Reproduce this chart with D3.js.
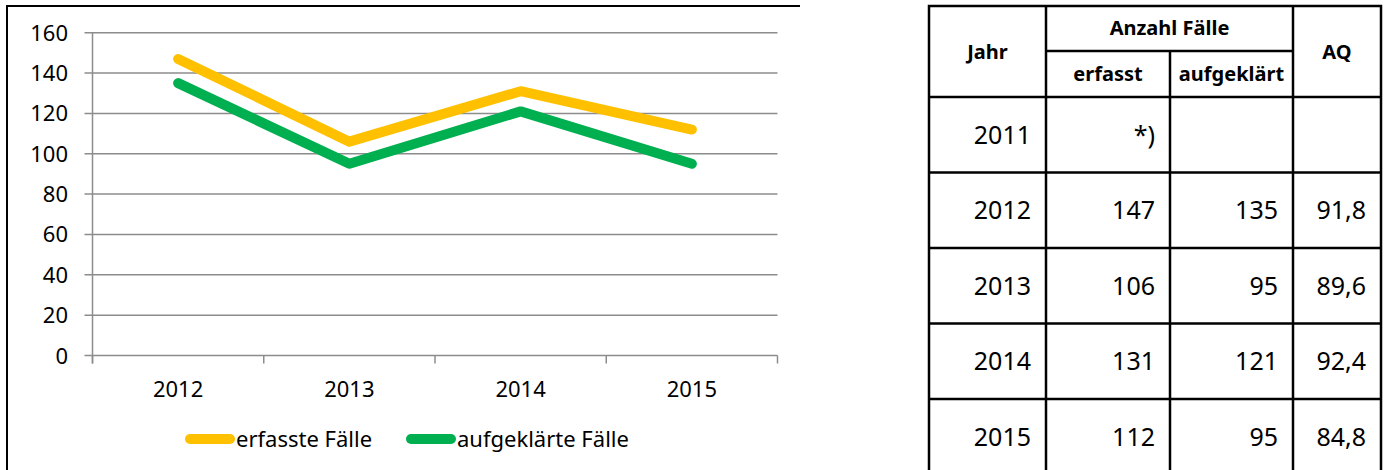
<!DOCTYPE html>
<html>
<head>
<meta charset="utf-8">
<script src="https://cdn.jsdelivr.net/npm/d3@7"></script>
<style>
  body { margin: 0; background: #fff; }
  svg { display: block; font-family: "Noto Sans", sans-serif; }
</style>
</head>
<body>
<div id="chart"></div>
<script>
// ---------------- DATA ----------------
const years = ["2012", "2013", "2014", "2015"];
const erfasst = [147, 106, 131, 112];
const aufgeklaert = [135, 95, 121, 95];
const yTicks = [0, 20, 40, 60, 80, 100, 120, 140, 160];
const seriesNames = ["erfasste Fälle", "aufgeklärte Fälle"];
const seriesColors = ["#FFC000", "#00B050"];

const tableYears = ["2011", "2012", "2013", "2014", "2015"];
const tableErfasst = ["*)", "147", "106", "131", "112"];
const tableAufgeklaert = ["", "135", "95", "121", "95"];
const tableAQ = ["", "91,8", "89,6", "92,4", "84,8"];

const W = 1389, H = 470;
const svg = d3.select("#chart").append("svg").attr("width", W).attr("height", H);

// ---------------- CHART FRAME ----------------
svg.append("path")
  .attr("d", "M7,470 V6 H800")
  .attr("fill", "none")
  .attr("stroke", "#000")
  .attr("stroke-width", 2);

const plot = { left: 92.5, right: 777.5, top: 32.7, bottom: 355.5 };

const x = d3.scaleBand().domain(years).range([plot.left, plot.right]);
const y = d3.scaleLinear().domain([0, 160]).range([plot.bottom, plot.top]);

// gridlines + left ticks
svg.append("g")
  .selectAll("line")
  .data(yTicks)
  .join("line")
  .attr("x1", plot.left - 8)
  .attr("x2", plot.right)
  .attr("y1", (d) => y(d))
  .attr("y2", (d) => y(d))
  .attr("stroke", "#8c8c8c")
  .attr("stroke-width", 1.5);

// y axis line
svg.append("line")
  .attr("x1", plot.left).attr("x2", plot.left)
  .attr("y1", plot.top).attr("y2", plot.bottom + 8)
  .attr("stroke", "#8c8c8c").attr("stroke-width", 1.5);

// x ticks at band edges
const edges = years.map((d) => x(d)).concat([plot.right]);
svg.append("g")
  .selectAll("line")
  .data(edges)
  .join("line")
  .attr("x1", (d) => d).attr("x2", (d) => d)
  .attr("y1", plot.bottom).attr("y2", plot.bottom + 8)
  .attr("stroke", "#8c8c8c").attr("stroke-width", 1.5);

// y labels
svg.append("g")
  .selectAll("text")
  .data(yTicks)
  .join("text")
  .attr("x", 68)
  .attr("y", (d) => y(d) + 8)
  .attr("text-anchor", "end")
  .style("font-size", "22px")
  .attr("fill", "#000")
  .text((d) => d);

// x labels
svg.append("g")
  .selectAll("text")
  .data(years)
  .join("text")
  .attr("x", (d) => x(d) + x.bandwidth() / 2)
  .attr("y", 397)
  .attr("text-anchor", "middle")
  .style("font-size", "22px")
  .text((d) => d);

// lines
const line = d3.line()
  .x((d, i) => x(years[i]) + x.bandwidth() / 2)
  .y((d) => y(d));

[erfasst, aufgeklaert].forEach((s, i) => {
  svg.append("path")
    .datum(s)
    .attr("d", line)
    .attr("fill", "none")
    .attr("stroke", seriesColors[i])
    .attr("stroke-width", 10)
    .attr("stroke-linecap", "round")
    .attr("stroke-linejoin", "round");
});

// legend
const legendX = [190, 411];
seriesNames.forEach((name, i) => {
  const g = svg.append("g").attr("transform", `translate(${legendX[i]},439)`);
  g.append("line")
    .attr("x1", 0).attr("x2", 40)
    .attr("stroke", seriesColors[i])
    .attr("stroke-width", 10)
    .attr("stroke-linecap", "round");
  g.append("text")
    .attr("x", 46)
    .attr("y", 8)
    .style("font-size", "22px")
    .text(name);
});

// ---------------- TABLE ----------------
const cols = [929, 1046, 1170, 1293, 1381];
const rowTop = 97, rowH = 75.5;
const tbl = svg.append("g").attr("stroke", "#000").attr("stroke-width", 2.5);

// outer + header lines
tbl.append("path")
  .attr("d", `M${cols[0]},${H + 5} V6 H${cols[4]} V${H + 5}`)
  .attr("fill", "none");
tbl.append("line").attr("x1", cols[1]).attr("x2", cols[3]).attr("y1", 51).attr("y2", 51);
tbl.append("line").attr("x1", cols[1]).attr("x2", cols[1]).attr("y1", 6).attr("y2", H + 5);
tbl.append("line").attr("x1", cols[3]).attr("x2", cols[3]).attr("y1", 6).attr("y2", H + 5);
tbl.append("line").attr("x1", cols[2]).attr("x2", cols[2]).attr("y1", 51).attr("y2", H + 5);

const rows = d3.range(tableYears.length);
tbl.selectAll("line.row")
  .data(rows)
  .join("line")
  .attr("class", "row")
  .attr("x1", cols[0]).attr("x2", cols[4])
  .attr("y1", (i) => rowTop + i * rowH)
  .attr("y2", (i) => rowTop + i * rowH);

// header text
const header = [
  { t: "Jahr", x: (cols[0] + cols[1]) / 2, y: 59 },
  { t: "Anzahl Fälle", x: (cols[1] + cols[3]) / 2, y: 35 },
  { t: "erfasst", x: (cols[1] + cols[2]) / 2, y: 81 },
  { t: "aufgeklärt", x: (cols[2] + cols[3]) / 2, y: 81 },
  { t: "AQ", x: (cols[3] + cols[4]) / 2, y: 59 },
];
svg.append("g")
  .selectAll("text")
  .data(header)
  .join("text")
  .attr("x", (d) => d.x)
  .attr("y", (d) => d.y)
  .attr("text-anchor", "middle")
  .style("font-size", "20px")
  .style("font-weight", "bold")
  .text((d) => d.t);

// body text
const columns = [tableYears, tableErfasst, tableAufgeklaert, tableAQ];
columns.forEach((col, c) => {
  svg.append("g")
    .selectAll("text")
    .data(col)
    .join("text")
    .attr("x", cols[c + 1] - 15)
    .attr("y", (d, i) => rowTop + i * rowH + rowH / 2 + 9)
    .attr("text-anchor", "end")
    .style("font-size", "25px")
    .text((d) => d);
});
</script>
</body>
</html>
